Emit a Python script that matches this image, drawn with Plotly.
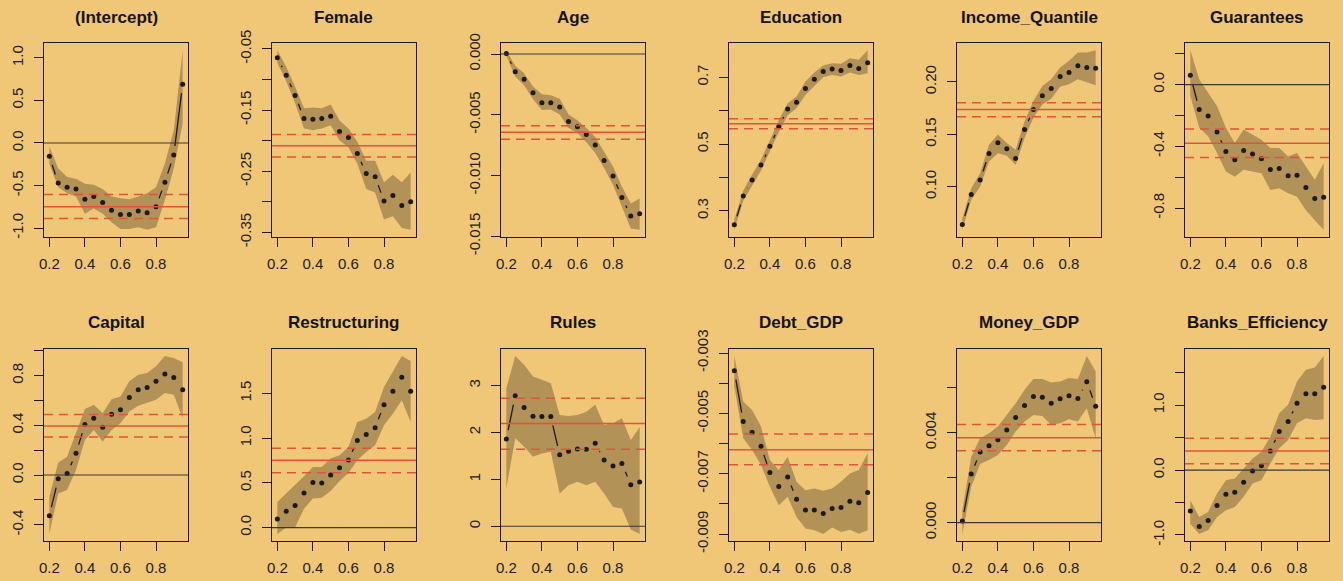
import math
import plotly.graph_objects as go

# ---------------- data ----------------
taus = [0.20, 0.25, 0.30, 0.35, 0.40, 0.45, 0.50, 0.55, 0.60, 0.65, 0.70, 0.75, 0.80, 0.85, 0.90, 0.95]

variables = ["(Intercept)", "Female", "Age", "Education", "Income_Quantile", "Guarantees",
             "Capital", "Restructuring", "Rules", "Debt_GDP", "Money_GDP", "Banks_Efficiency"]

coef_intercept = [-0.157, -0.47, -0.52, -0.54, -0.66, -0.63, -0.70, -0.79, -0.84, -0.84, -0.80, -0.82, -0.75, -0.46, -0.14, 0.69]
lo_intercept = [-0.24, -0.52, -0.59, -0.63, -0.83, -0.77, -0.83, -0.93, -1.01, -1.01, -0.99, -1.02, -0.99, -0.67, -0.30, 0.23]
hi_intercept = [-0.04, -0.30, -0.40, -0.42, -0.48, -0.49, -0.54, -0.63, -0.65, -0.66, -0.63, -0.59, -0.52, -0.24, 0.15, 1.09]
ols_intercept = [-0.748, -0.886, -0.606]

coef_female = [-0.0643, -0.0929, -0.126, -0.164, -0.165, -0.164, -0.160, -0.185, -0.195, -0.221, -0.254, -0.259, -0.299, -0.290, -0.306, -0.300]
lo_female = [-0.073, -0.103, -0.139, -0.180, -0.183, -0.180, -0.175, -0.200, -0.211, -0.238, -0.279, -0.285, -0.329, -0.324, -0.343, -0.346]
hi_female = [-0.052, -0.079, -0.112, -0.147, -0.146, -0.147, -0.141, -0.167, -0.180, -0.202, -0.233, -0.233, -0.268, -0.256, -0.268, -0.252]
ols_female = [-0.2085, -0.227, -0.190]

coef_age = [0.00005, -0.00146, -0.00207, -0.00318, -0.00401, -0.00401, -0.00436, -0.00555, -0.00599, -0.00663, -0.00749, -0.00876, -0.01003, -0.0118, -0.01334, -0.01315]
lo_age = [-0.00014, -0.00185, -0.00257, -0.00373, -0.00461, -0.00456, -0.00497, -0.00608, -0.00649, -0.00727, -0.00815, -0.00939, -0.01077, -0.01257, -0.01436, -0.01447]
hi_age = [0.00032, -0.00097, -0.00157, -0.00268, -0.00331, -0.0034, -0.00367, -0.00497, -0.00544, -0.00608, -0.00682, -0.00801, -0.00925, -0.0109, -0.0123, -0.0119]
ols_age = [-0.00644, -0.00702, -0.00591]

coef_education = [0.258, 0.344, 0.392, 0.437, 0.493, 0.552, 0.605, 0.625, 0.666, 0.694, 0.717, 0.725, 0.720, 0.735, 0.726, 0.743]
lo_education = [0.243, 0.330, 0.375, 0.421, 0.476, 0.536, 0.586, 0.607, 0.647, 0.674, 0.700, 0.707, 0.702, 0.714, 0.707, 0.712]
hi_education = [0.275, 0.360, 0.409, 0.453, 0.511, 0.571, 0.622, 0.642, 0.687, 0.714, 0.735, 0.742, 0.740, 0.757, 0.752, 0.781]
ols_education = [0.561, 0.546, 0.576]

coef_income = [0.0638, 0.0926, 0.1064, 0.1317, 0.142, 0.1362, 0.1269, 0.1545, 0.1737, 0.1869, 0.1936, 0.2051, 0.209, 0.2154, 0.2138, 0.2131]
lo_income = [0.0588, 0.0872, 0.100, 0.124, 0.132, 0.1295, 0.1208, 0.1465, 0.1657, 0.1785, 0.184, 0.1955, 0.1978, 0.2026, 0.200, 0.1968]
hi_income = [0.0696, 0.0984, 0.1128, 0.140, 0.1497, 0.1417, 0.1353, 0.1625, 0.1817, 0.1962, 0.2026, 0.2138, 0.2202, 0.2282, 0.2282, 0.2303]
ols_income = [0.1737, 0.1667, 0.180]

coef_guarantees = [0.061, -0.161, -0.204, -0.307, -0.433, -0.487, -0.426, -0.45, -0.48, -0.55, -0.543, -0.591, -0.587, -0.667, -0.737, -0.730]
lo_guarantees = [-0.074, -0.28, -0.335, -0.443, -0.563, -0.596, -0.552, -0.563, -0.574, -0.683, -0.672, -0.704, -0.726, -0.813, -0.878, -0.9405]
hi_guarantees = [0.223, 0.035, -0.052, -0.139, -0.28, -0.378, -0.291, -0.324, -0.357, -0.41, -0.41, -0.465, -0.443, -0.53, -0.617, -0.509]
ols_guarantees = [-0.380, -0.472, -0.287]

coef_capital = [-0.328, -0.03, 0.013, 0.175, 0.406, 0.457, 0.384, 0.489, 0.524, 0.624, 0.685, 0.704, 0.753, 0.812, 0.785, 0.685]
lo_capital = [-0.473, -0.148, -0.121, 0.04, 0.282, 0.363, 0.269, 0.363, 0.417, 0.511, 0.556, 0.578, 0.605, 0.659, 0.645, 0.457]
hi_capital = [-0.175, 0.10, 0.148, 0.336, 0.53, 0.565, 0.497, 0.61, 0.632, 0.753, 0.806, 0.82, 0.874, 0.956, 0.941, 0.906]
ols_capital = [0.395, 0.306, 0.487]

coef_restructuring = [0.097, 0.182, 0.246, 0.387, 0.503, 0.499, 0.588, 0.67, 0.756, 0.972, 1.039, 1.117, 1.374, 1.523, 1.679, 1.523]
lo_restructuring = [-0.07, 0.0, 0.005, 0.212, 0.324, 0.335, 0.41, 0.521, 0.61, 0.752, 0.845, 0.92, 1.143, 1.273, 1.422, 1.18]
hi_restructuring = [0.287, 0.38, 0.473, 0.573, 0.678, 0.678, 0.771, 0.808, 0.901, 1.18, 1.217, 1.292, 1.571, 1.739, 1.916, 1.86]
ols_restructuring = [0.752, 0.614, 0.886]

coef_rules = [1.86, 2.78, 2.53, 2.345, 2.338, 2.338, 1.525, 1.597, 1.646, 1.639, 1.768, 1.411, 1.283, 1.34, 0.884, 0.941]
lo_rules = [0.805, 1.875, 1.696, 1.48, 1.55, 1.59, 0.70, 0.877, 0.948, 0.877, 0.948, 0.70, 0.413, 0.378, -0.07, -0.162]
hi_rules = [2.94, 3.626, 3.44, 3.19, 3.12, 3.05, 2.37, 2.35, 2.37, 2.44, 2.59, 2.16, 2.195, 2.30, 1.84, 2.11]
ols_rules = [2.188, 1.639, 2.73]

coef_debt = [-0.003588, -0.005273, -0.005627, -0.006093, -0.006958, -0.007424, -0.007113, -0.007845, -0.0082, -0.0082, -0.008322, -0.008155, -0.008122, -0.007911, -0.007967, -0.007623]
lo_debt = [-0.004109, -0.005827, -0.006215, -0.006714, -0.007435, -0.008044, -0.007767, -0.008432, -0.00882, -0.008876, -0.008995, -0.008787, -0.008931, -0.008854, -0.008987, -0.008876]
hi_debt = [-0.003103, -0.004608, -0.004885, -0.005439, -0.006548, -0.006881, -0.006437, -0.007268, -0.007546, -0.00749, -0.007568, -0.00749, -0.007268, -0.006991, -0.00688, -0.006326]
ols_debt = [-0.006204, -0.006703, -0.005683]

coef_money = [0.0000745, 0.00216, 0.003142, 0.003425, 0.003693, 0.004125, 0.004676, 0.005212, 0.005614, 0.005585, 0.005316, 0.00551, 0.005644, 0.005525, 0.00627, 0.005182]
lo_money = [-0.000502, 0.001593, 0.002606, 0.002785, 0.003008, 0.003455, 0.004051, 0.004497, 0.004795, 0.00475, 0.004348, 0.004423, 0.004602, 0.004497, 0.005093, 0.003753]
hi_money = [0.000551, 0.002934, 0.003753, 0.003976, 0.004274, 0.004795, 0.005316, 0.005912, 0.006389, 0.006389, 0.00624, 0.006284, 0.006433, 0.006389, 0.007412, 0.006731]
ols_money = [0.003783, 0.003202, 0.004363]

coef_banks = [-0.629, -0.871, -0.778, -0.546, -0.371, -0.34, -0.186, -0.015, 0.067, 0.294, 0.593, 0.747, 1.031, 1.175, 1.175, 1.278]
lo_banks = [-0.825, -0.983, -0.928, -0.722, -0.619, -0.567, -0.412, -0.206, -0.155, 0.103, 0.335, 0.464, 0.722, 0.799, 0.773, 0.784]
hi_banks = [-0.464, -0.722, -0.644, -0.361, -0.155, -0.129, 0.026, 0.18, 0.284, 0.515, 0.876, 1.005, 1.366, 1.546, 1.582, 1.756]
ols_banks = [0.294, 0.098, 0.49]

x_tickvals = [0.2, 0.4, 0.6, 0.8]
x_ticktext = ["0.2", "0.4", "0.6", "0.8"]

yticks_intercept = [-1.0, -0.5, 0.0, 0.5, 1.0]
ylabels_intercept = ["-1.0", "-0.5", "0.0", "0.5", "1.0"]
yticks_female = [-0.35, -0.30, -0.25, -0.20, -0.15, -0.10, -0.05]
ylabels_female = ["-0.35", "", "-0.25", "", "-0.15", "", "-0.05"]
yticks_age = [-0.015, -0.010, -0.005, 0.0]
ylabels_age = ["-0.015", "-0.010", "-0.005", "0.000"]
yticks_education = [0.3, 0.4, 0.5, 0.6, 0.7]
ylabels_education = ["0.3", "", "0.5", "", "0.7"]
yticks_income = [0.10, 0.15, 0.20]
ylabels_income = ["0.10", "0.15", "0.20"]
yticks_guarantees = [-0.8, -0.6, -0.4, -0.2, 0.0, 0.2]
ylabels_guarantees = ["-0.8", "", "-0.4", "", "0.0", ""]
yticks_capital = [-0.4, -0.2, 0.0, 0.2, 0.4, 0.6, 0.8, 1.0]
ylabels_capital = ["-0.4", "", "0.0", "", "0.4", "", "0.8", ""]
yticks_restructuring = [0.0, 0.5, 1.0, 1.5]
ylabels_restructuring = ["0.0", "0.5", "1.0", "1.5"]
yticks_rules = [0, 1, 2, 3]
ylabels_rules = ["0", "1", "2", "3"]
yticks_debt = [-0.009, -0.008, -0.007, -0.006, -0.005, -0.004, -0.003]
ylabels_debt = ["-0.009", "", "-0.007", "", "-0.005", "", "-0.003"]
yticks_money = [0.000, 0.002, 0.004, 0.006]
ylabels_money = ["0.000", "", "0.004", ""]
yticks_banks = [-1.0, -0.5, 0.0, 0.5, 1.0, 1.5]
ylabels_banks = ["-1.0", "", "0.0", "", "1.0", ""]

panels = [
    (coef_intercept, lo_intercept, hi_intercept, ols_intercept, yticks_intercept, ylabels_intercept),
    (coef_female, lo_female, hi_female, ols_female, yticks_female, ylabels_female),
    (coef_age, lo_age, hi_age, ols_age, yticks_age, ylabels_age),
    (coef_education, lo_education, hi_education, ols_education, yticks_education, ylabels_education),
    (coef_income, lo_income, hi_income, ols_income, yticks_income, ylabels_income),
    (coef_guarantees, lo_guarantees, hi_guarantees, ols_guarantees, yticks_guarantees, ylabels_guarantees),
    (coef_capital, lo_capital, hi_capital, ols_capital, yticks_capital, ylabels_capital),
    (coef_restructuring, lo_restructuring, hi_restructuring, ols_restructuring, yticks_restructuring, ylabels_restructuring),
    (coef_rules, lo_rules, hi_rules, ols_rules, yticks_rules, ylabels_rules),
    (coef_debt, lo_debt, hi_debt, ols_debt, yticks_debt, ylabels_debt),
    (coef_money, lo_money, hi_money, ols_money, yticks_money, ylabels_money),
    (coef_banks, lo_banks, hi_banks, ols_banks, yticks_banks, ylabels_banks),
]

# ---------------- layout / style ----------------
W, H = 1343, 581
BG = "rgb(239,199,118)"
BAND = "rgb(178,146,87)"
INK = "rgb(28,26,22)"
RED = "rgb(226,84,58)"
FONT = "Liberation Sans, Arial, Helvetica, sans-serif"

col_left = [44, 272, 501, 729, 957, 1185]
panel_w = 144
row_top = [43, 349]
row_bot = [237, 541]
title_y = [18, 322]
GAP_PX = 9.0


def pad_range(lo, hi, frac=0.04):
    d = hi - lo
    return [lo - frac * d, hi + frac * d]


def gapped_segments(xs, ys, xr, yr, wpx, hpx, gap):
    sx = wpx / (xr[1] - xr[0])
    sy = hpx / (yr[1] - yr[0])
    X, Y = [], []
    for i in range(len(xs) - 1):
        dx = xs[i + 1] - xs[i]
        dy = ys[i + 1] - ys[i]
        L = math.hypot(dx * sx, dy * sy)
        if L <= 2 * gap:
            continue
        f = gap / L
        X += [xs[i] + f * dx, xs[i + 1] - f * dx, None]
        Y += [ys[i] + f * dy, ys[i + 1] - f * dy, None]
    return X, Y


fig = go.Figure()
shapes = []
annotations = []
xr = pad_range(min(taus), max(taus))

for k, (name, (cf, lo, hi, ols, yt, yl)) in enumerate(zip(variables, panels)):
    row, col = divmod(k, 6)
    idx = "" if k == 0 else str(k + 1)
    xa, ya = "x" + idx, "y" + idx
    x0 = col_left[col]
    x1 = x0 + panel_w
    top, bot = row_top[row], row_bot[row]
    yr = pad_range(min(lo), max(hi))

    # confidence band
    fig.add_trace(go.Scatter(
        x=taus + taus[::-1], y=hi + lo[::-1], fill="toself", fillcolor=BAND,
        line=dict(width=0), mode="lines", hoverinfo="skip", showlegend=False,
        xaxis=xa, yaxis=ya))
    # type = "b" connecting lines (gapped around points)
    gx, gy = gapped_segments(taus, cf, xr, yr, panel_w, bot - top, GAP_PX)
    fig.add_trace(go.Scatter(
        x=gx, y=gy, mode="lines", line=dict(color=INK, width=1.3),
        connectgaps=False, hoverinfo="skip", showlegend=False, xaxis=xa, yaxis=ya))
    # points
    fig.add_trace(go.Scatter(
        x=taus, y=cf, mode="markers", marker=dict(color=INK, size=5),
        showlegend=False, xaxis=xa, yaxis=ya))

    # zero line
    if yr[0] <= 0 <= yr[1]:
        shapes.append(dict(type="line", xref=xa + " domain", yref=ya, x0=0, x1=1, y0=0, y1=0,
                           line=dict(color="rgb(60,56,50)", width=1.1), layer="above"))
    # OLS estimate and CI
    shapes.append(dict(type="line", xref=xa + " domain", yref=ya, x0=0, x1=1, y0=ols[0], y1=ols[0],
                       line=dict(color=RED, width=1.5), layer="above"))
    for v in ols[1:]:
        shapes.append(dict(type="line", xref=xa + " domain", yref=ya, x0=0, x1=1, y0=v, y1=v,
                           line=dict(color=RED, width=1.5, dash="9px,6px"), layer="above"))

    axis_common = dict(showgrid=False, zeroline=False, showline=True, mirror=True,
                       linecolor=INK, linewidth=1.3, ticks="outside", ticklen=9,
                       tickwidth=1.1, tickcolor=INK, automargin=False,
                       tickfont=dict(family=FONT, size=15, color="rgb(34,34,34)"))
    fig.update_layout({
        ("xaxis" + idx): dict(domain=[x0 / W, x1 / W], range=xr, anchor=ya,
                              tickmode="array", tickvals=x_tickvals, ticktext=x_ticktext,
                              ticklabelstandoff=4, **axis_common),
        ("yaxis" + idx): dict(domain=[1 - bot / H, 1 - top / H], range=yr, anchor=xa,
                              tickmode="array", tickvals=yt, ticktext=yl, tickangle=-90,
                              ticklabelstandoff=5, **axis_common),
    })
    annotations.append(dict(text=name, x=(x0 + x1) / 2 / W, y=1 - title_y[row] / H,
                            xref="paper", yref="paper", xanchor="center", yanchor="middle",
                            showarrow=False,
                            font=dict(family=FONT, size=17, color="rgb(20,20,20)", weight="bold")))

fig.update_layout(width=W, height=H, margin=dict(l=0, r=0, t=0, b=0, autoexpand=False),
                  paper_bgcolor=BG, plot_bgcolor=BG, showlegend=False,
                  shapes=shapes, annotations=annotations)

fig.write_html("out.html")
